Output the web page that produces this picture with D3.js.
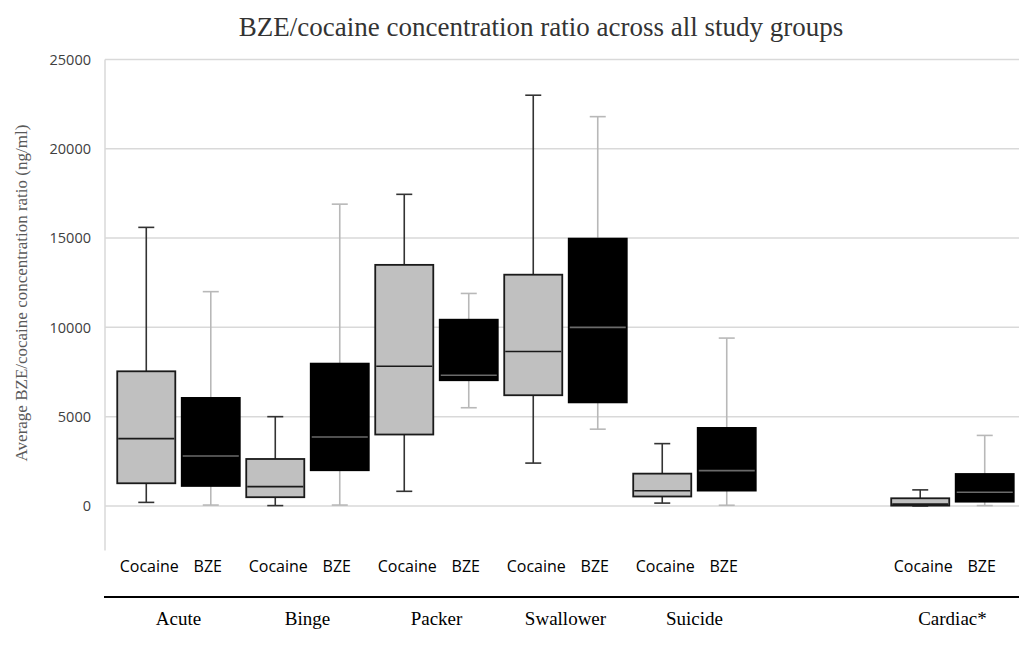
<!DOCTYPE html>
<html>
<head>
<meta charset="utf-8">
<script src="https://cdn.jsdelivr.net/npm/d3@7/dist/d3.min.js"></script>
<style>
  html, body { margin: 0; padding: 0; background: #fff; }
  svg { display: block; }
</style>
</head>
<body>
<svg id="chart" width="1019" height="648"></svg>
<script>
// ---------------- data ----------------
const title = "BZE/cocaine concentration ratio across all study groups";
const yAxisTitle = "Average BZE/cocaine concentration ratio (ng/ml)";
const series = ["Cocaine", "BZE"];
const groups = ["Acute", "Binge", "Packer", "Swallower", "Suicide", "Cardiac*"];
// slot order on the x axis (an empty slot pair sits between Suicide and Cardiac*)
const slotOrder = ["Acute", "Binge", "Packer", "Swallower", "Suicide", "", "Cardiac*"];
const yTicks = [0, 5000, 10000, 15000, 20000, 25000];
// [min, Q1, median, Q3, max] per group
const cocaineBoxes = [
  [200, 1270, 3770, 7540, 15600],
  [20, 490, 1080, 2630, 5000],
  [820, 4000, 7820, 13500, 17450],
  [2400, 6200, 8650, 12950, 23000],
  [160, 530, 850, 1810, 3490],
  [0, 20, 100, 430, 900]
];
const bzeBoxes = [
  [50, 1120, 2800, 6050, 12000],
  [50, 2000, 3860, 7970, 16900],
  [5500, 7040, 7320, 10430, 11900],
  [4300, 5800, 10000, 14970, 21800],
  [40, 860, 1980, 4370, 9400],
  [20, 240, 770, 1790, 3950]
];

// ---------------- layout ----------------
const W = 1019, H = 648;
const plotLeft = 105, plotRight = 1026, plotTop = 59.5, plotBottom = 550.6;
const svg = d3.select("#chart");

const slots = slotOrder.flatMap((g, i) => series.map(s => i + "|" + s));
const x = d3.scaleBand().domain(slots).range([plotLeft, plotRight])
  .paddingInner(0.1).paddingOuter(0.19);
const y = d3.scaleLinear().domain([-2500, 25000]).range([plotBottom, plotTop]);

const style = {
  Cocaine: { fill: "#c0c0c0", stroke: "#1a1a1a", whisker: "#333333", median: "#1a1a1a" },
  BZE: { fill: "#000000", stroke: "#000000", whisker: "#b8b8b8", median: "#6a6a6a" }
};

// gridlines
svg.append("g").selectAll("line").data(yTicks).join("line")
  .attr("x1", plotLeft).attr("x2", plotRight)
  .attr("y1", d => y(d)).attr("y2", d => y(d))
  .attr("stroke", "#d9d9d9").attr("stroke-width", 1.5);

// y axis line
svg.append("line")
  .attr("x1", plotLeft).attr("x2", plotLeft)
  .attr("y1", y(25000)).attr("y2", plotBottom)
  .attr("stroke", "#d9d9d9").attr("stroke-width", 1.5);

// y tick labels via d3 axis
const yAxis = d3.axisLeft(y).tickValues(yTicks).tickSize(0).tickPadding(14).tickFormat(d3.format("d"));
const ya = svg.append("g").attr("transform", `translate(${plotLeft},0)`).call(yAxis);
ya.select(".domain").remove();
ya.selectAll("text")
  .attr("font-family", "'Open Sans', sans-serif").attr("font-size", 14.5)
  .attr("fill", "#404040");

// box data
const boxes = [];
groups.forEach((g, gi) => {
  const slotIdx = slotOrder.indexOf(g);
  [["Cocaine", cocaineBoxes[gi]], ["BZE", bzeBoxes[gi]]].forEach(([s, v]) => {
    boxes.push({ key: slotIdx + "|" + s, series: s, min: v[0], q1: v[1], med: v[2], q3: v[3], max: v[4] });
  });
});

const capW = 16;
const bg = svg.append("g").selectAll("g").data(boxes).join("g")
  .attr("transform", d => `translate(${x(d.key)},0)`);
const bw = x.bandwidth();

// whiskers
bg.append("line")
  .attr("x1", bw / 2).attr("x2", bw / 2)
  .attr("y1", d => y(d.max)).attr("y2", d => y(d.min))
  .attr("stroke", d => style[d.series].whisker).attr("stroke-width", 1.6);
bg.append("line")
  .attr("x1", bw / 2 - capW / 2).attr("x2", bw / 2 + capW / 2)
  .attr("y1", d => y(d.max)).attr("y2", d => y(d.max))
  .attr("stroke", d => style[d.series].whisker).attr("stroke-width", 1.6);
bg.append("line")
  .attr("x1", bw / 2 - capW / 2).attr("x2", bw / 2 + capW / 2)
  .attr("y1", d => y(d.min)).attr("y2", d => y(d.min))
  .attr("stroke", d => style[d.series].whisker).attr("stroke-width", 1.6);

// boxes
bg.append("rect")
  .attr("x", 0).attr("width", bw)
  .attr("y", d => y(d.q3)).attr("height", d => y(d.q1) - y(d.q3))
  .attr("fill", d => style[d.series].fill)
  .attr("stroke", d => style[d.series].stroke).attr("stroke-width", 1.8);
// medians
bg.append("line")
  .attr("x1", 1).attr("x2", bw - 1)
  .attr("y1", d => y(d.med)).attr("y2", d => y(d.med))
  .attr("stroke", d => style[d.series].median).attr("stroke-width", 1.6);

// series labels
svg.append("g").selectAll("text").data(boxes).join("text")
  .attr("x", d => x(d.key) + bw / 2 + (d.series === "Cocaine" ? 3 : -3))
  .attr("y", 572)
  .attr("text-anchor", "middle")
  .attr("font-family", "'Open Sans', sans-serif").attr("font-size", 16)
  .attr("fill", "#000")
  .text(d => d.series);

// separator line
svg.append("line")
  .attr("x1", plotLeft - 1).attr("x2", W)
  .attr("y1", 597).attr("y2", 597)
  .attr("stroke", "#000").attr("stroke-width", 2);

// group labels
svg.append("g").selectAll("text").data(groups).join("text")
  .attr("x", g => {
    const i = slotOrder.indexOf(g);
    return (x(i + "|Cocaine") + x(i + "|BZE") + bw) / 2;
  })
  .attr("y", 625)
  .attr("text-anchor", "middle")
  .attr("font-family", "'Liberation Serif', 'Times New Roman', serif").attr("font-size", 19)
  .attr("fill", "#000")
  .text(g => g);

// title
svg.append("text")
  .attr("x", 541).attr("y", 36)
  .attr("text-anchor", "middle")
  .attr("font-family", "'Liberation Serif', 'Times New Roman', serif").attr("font-size", 27)
  .attr("fill", "#333")
  .text(title);

// y axis title
svg.append("text")
  .attr("transform", `translate(27, ${(y(25000) + plotBottom) / 2 - 12}) rotate(-90)`)
  .attr("text-anchor", "middle")
  .attr("font-family", "'Liberation Serif', 'Times New Roman', serif").attr("font-size", 17)
  .attr("fill", "#595959")
  .text(yAxisTitle);
</script>
</body>
</html>
